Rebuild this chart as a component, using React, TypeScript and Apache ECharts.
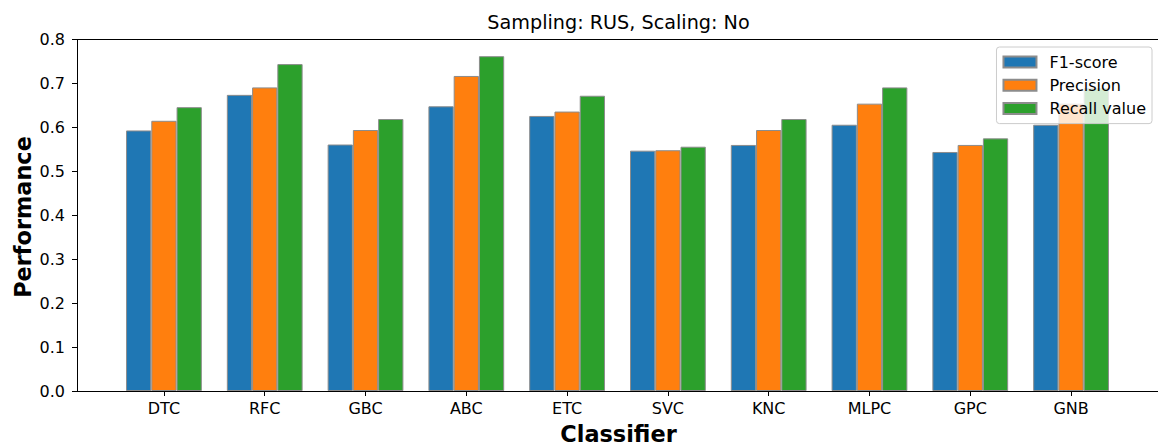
import React, { useEffect, useRef } from "react";
import * as echarts from "echarts";

const categories = ["DTC", "RFC", "GBC", "ABC", "ETC", "SVC", "KNC", "MLPC", "GPC", "GNB"];
const f1Score = [0.593, 0.674, 0.561, 0.648, 0.626, 0.547, 0.560, 0.606, 0.544, 0.606];
const precision = [0.615, 0.691, 0.594, 0.717, 0.636, 0.548, 0.594, 0.654, 0.560, 0.654];
const recall = [0.646, 0.744, 0.619, 0.762, 0.672, 0.556, 0.619, 0.691, 0.575, 0.689];
const yTicks = [0, 0.1, 0.2, 0.3, 0.4, 0.5, 0.6, 0.7, 0.8];
const seriesNames = ["F1-score", "Precision", "Recall value"];
const colors = ["#1f77b4", "#ff7f0e", "#2ca02c"];

const FONT = "DejaVu Sans";

export default function App() {
  const ref = useRef<HTMLDivElement>(null);
  useEffect(() => {
    if (!ref.current) return;
    const chart = echarts.init(ref.current, null, { renderer: "svg" });
    const idx = categories.map((_, i) => i);
    const xMin = -0.8625;
    const xMax = 9.8625;
    const mk = (name: string, vals: number[], color: string) => ({
      name,
      type: "bar",
      xAxisIndex: 0,
      yAxisIndex: 0,
      barWidth: 25.26,
      barGap: "0%",
      itemStyle: { color, borderColor: "#8c8c8c", borderWidth: 1 },
      data: vals.map((v, i) => [i, v]),
    });
    chart.setOption({
      animation: false,
      grid: { left: 77, right: -3, top: 39.5, bottom: 55, containLabel: false },
      legend: {
        orient: "vertical",
        right: 6,
        top: 47,
        data: seriesNames,
        icon: "rect",
        itemWidth: 33,
        itemHeight: 11,
        itemGap: 7.3,
        padding: [7, 6, 7, 6],
        backgroundColor: "rgba(255,255,255,0.8)",
        borderColor: "#cccccc",
        borderWidth: 1,
        borderRadius: 3,
        textStyle: { fontFamily: FONT, fontSize: 16, color: "#000", padding: [0, 0, 0, 8] },
      },
      xAxis: [
        {
          type: "value",
          min: xMin,
          max: xMax,
          position: "bottom",
          splitLine: { show: false },
          axisLine: { show: true, onZero: false, lineStyle: { color: "#000", width: 1 } },
          axisTick: { show: true, length: 5, customValues: idx, lineStyle: { color: "#000" } },
          axisLabel: {
            customValues: idx,
            margin: 9,
            fontFamily: FONT,
            fontSize: 16,
            color: "#000",
            formatter: (v: number) => categories[Math.round(v)] ?? "",
          },
        },
        {
          type: "value",
          min: xMin,
          max: xMax,
          position: "top",
          splitLine: { show: false },
          axisLine: { show: true, onZero: false, lineStyle: { color: "#000", width: 1 } },
          axisTick: { show: false },
          axisLabel: { show: false },
        },
      ],
      yAxis: {
        type: "value",
        min: 0,
        max: 0.8,
        interval: 0.1,
        splitLine: { show: false },
        axisLine: { show: true, onZero: false, lineStyle: { color: "#000", width: 1 } },
        axisTick: { show: true, length: 5, lineStyle: { color: "#000" } },
        axisLabel: {
          margin: 12,
          fontFamily: FONT,
          fontSize: 16,
          color: "#000",
          formatter: (v: number) => (yTicks.some((t) => Math.abs(t - v) < 1e-9) ? v.toFixed(1) : ""),
        },
      },
      graphic: [
        {
          type: "text",
          x: 618.5,
          y: 22,
          style: {
            text: "Sampling: RUS, Scaling: No",
            fontFamily: FONT,
            fontSize: 19.2,
            fill: "#000",
            align: "center",
            verticalAlign: "middle",
          },
        },
        {
          type: "text",
          x: 618.5,
          y: 434,
          style: {
            text: "Classifier",
            fontFamily: FONT,
            fontSize: 22.4,
            fontWeight: "bold",
            fill: "#000",
            align: "center",
            verticalAlign: "middle",
          },
        },
        {
          type: "text",
          x: 23,
          y: 217,
          rotation: Math.PI / 2,
          style: {
            text: "Performance",
            fontFamily: FONT,
            fontSize: 22.4,
            fontWeight: "bold",
            fill: "#000",
            align: "center",
            verticalAlign: "middle",
          },
        },
      ],
      series: [
        mk(seriesNames[0], f1Score, colors[0]),
        mk(seriesNames[1], precision, colors[1]),
        mk(seriesNames[2], recall, colors[2]),
      ],
    });
    return () => chart.dispose();
  }, []);
  return (
    <div
      ref={ref}
      style={{ position: "absolute", left: 0, top: 0, width: 1158, height: 446, background: "#fff" }}
    />
  );
}
